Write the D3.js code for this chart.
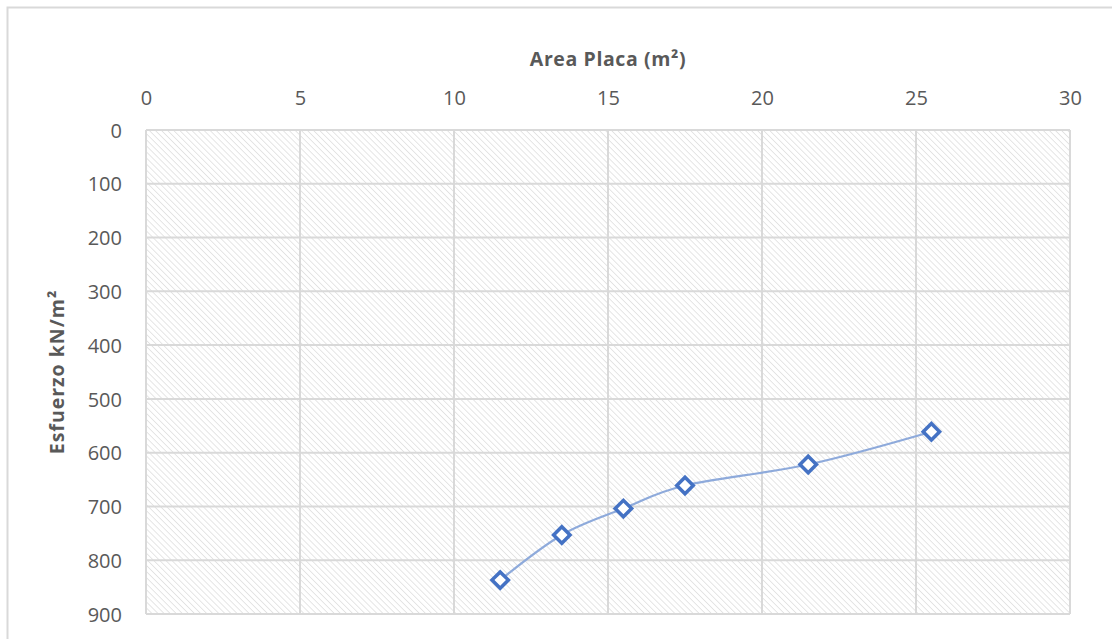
<!DOCTYPE html>
<html><head><meta charset="utf-8">
<script src="https://cdn.jsdelivr.net/npm/d3@7"></script>
<style>
html,body{margin:0;padding:0;background:#fff;}
svg{display:block;font-family:"Open Sans","Liberation Sans",sans-serif;}
</style></head>
<body>
<svg id="chart" width="1112" height="639"></svg>
<script>
const areaPlaca = [11.5, 13.5, 15.5, 17.5, 21.5, 25.5];
const esfuerzo = [837, 753, 704, 661, 622, 561];
const xTicks = [0, 5, 10, 15, 20, 25, 30];
const yTicks = [0, 100, 200, 300, 400, 500, 600, 700, 800, 900];
const xTitle = "Area Placa (m²)";
const yTitle = "Esfuerzo kN/m²";

const svg = d3.select("#chart");
const plot = {left: 146, top: 130, right: 1070, bottom: 614};

svg.append("rect").attr("x", 7.5).attr("y", 7.5).attr("width", 1120).attr("height", 660)
  .attr("fill", "#fff").attr("stroke", "#d9d9d9").attr("stroke-width", 2);

const defs = svg.append("defs");
const pat = defs.append("pattern").attr("id", "hatch").attr("patternUnits", "userSpaceOnUse")
  .attr("width", 4.3).attr("height", 4.3).attr("patternTransform", "rotate(-45)");
pat.append("rect").attr("width", 4.3).attr("height", 4.3).attr("fill", "#fff");
pat.append("line").attr("x1", 0).attr("y1", 0).attr("x2", 0).attr("y2", 4.3)
  .attr("stroke", "#dcdcdc").attr("stroke-width", 1.4);

const x = d3.scaleLinear().domain([0, 30]).range([plot.left, plot.right]);
const y = d3.scaleLinear().domain([0, 900]).range([plot.top, plot.bottom]);

svg.append("rect").attr("x", plot.left).attr("y", plot.top)
  .attr("width", plot.right - plot.left).attr("height", plot.bottom - plot.top)
  .attr("fill", "url(#hatch)");

const grid = svg.append("g").attr("stroke", "#d9d9d9").attr("stroke-width", 2);
grid.selectAll(".gx").data(xTicks).join("line")
  .attr("x1", d => x(d)).attr("x2", d => x(d)).attr("y1", plot.top).attr("y2", plot.bottom);
grid.selectAll(".gy").data(yTicks).join("line")
  .attr("y1", d => y(d)).attr("y2", d => y(d)).attr("x1", plot.left).attr("x2", plot.right);

const xAxis = svg.append("g").attr("transform", `translate(0,${plot.top - 23})`)
  .call(d3.axisTop(x).tickValues(xTicks).tickSize(0).tickPadding(0));
const yAxis = svg.append("g").attr("transform", `translate(${plot.left - 24},0)`)
  .call(d3.axisLeft(y).tickValues(yTicks).tickSize(0).tickPadding(0));
[xAxis, yAxis].forEach(a => {
  a.select(".domain").remove();
  a.selectAll("text").attr("fill", "#595959").style("font-size", "20px")
    .style("font-family", "'Open Sans','Liberation Sans',sans-serif");
});
xAxis.selectAll("text").attr("dy", "-0.1em");
yAxis.selectAll("text").attr("dy", "0.36em");

svg.append("text").attr("x", (plot.left + plot.right) / 2).attr("y", 66)
  .attr("text-anchor", "middle").attr("fill", "#595959")
  .style("font-size", "19.5px").style("font-weight", "bold").style("letter-spacing", "0.6px").text(xTitle);
svg.append("text").attr("transform", `translate(64,${(plot.top + plot.bottom) / 2}) rotate(-90)`)
  .attr("text-anchor", "middle").attr("fill", "#595959")
  .style("font-size", "19.5px").style("font-weight", "bold").style("letter-spacing", "1px").text(yTitle);

const pts = areaPlaca.map((d, i) => [x(d), y(esfuerzo[i])]);
svg.append("path").attr("d", d3.line().curve(d3.curveCatmullRom.alpha(0))(pts))
  .attr("fill", "none").attr("stroke", "#8eaadb").attr("stroke-width", 2.2);

const sym = d3.symbol().type(d3.symbolSquare).size(135);
svg.selectAll(".mk").data(pts).join("path")
  .attr("d", sym)
  .attr("transform", d => `translate(${d[0]},${d[1]}) rotate(45)`)
  .attr("fill", "#fff").attr("stroke", "#4472c4").attr("stroke-width", 3.5);
</script>
</body></html>
